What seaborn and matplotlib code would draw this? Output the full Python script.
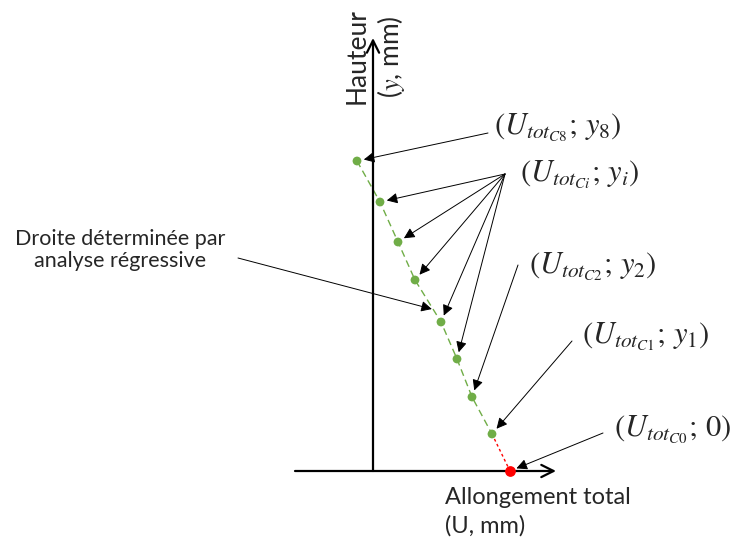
import numpy as np
import pandas as pd
import seaborn as sns
import matplotlib.pyplot as plt

# schematic data (drawing units, y grows downward)
u_pts = [357, 380, 398, 415, 441, 457, 472, 492]   # C8 ... C1
h_pts = [161, 202, 242, 280, 322, 359, 397, 434]
u0, h0 = 510, 471                                  # C0 on the U axis

lbl_c8 = r"$(U_{tot_{C8}};\,y_8)$"
lbl_ci = r"$(U_{tot_{Ci}};\,y_i)$"
lbl_c2 = r"$(U_{tot_{C2}};\,y_2)$"
lbl_c1 = r"$(U_{tot_{C1}};\,y_1)$"
lbl_c0 = r"$(U_{tot_{C0}};\,0)$"
lbl_line = "Droite déterminée par\nanalyse régressive"
lbl_x = "Allongement total\n(U, mm)"
lbl_y1 = "Hauteur"
lbl_y2 = "($y$, mm)"

sns.set_style("white")
plt.rcParams["font.family"] = ["Lato", "DejaVu Sans"]
plt.rcParams["mathtext.fontset"] = "stix"

fig = plt.figure(figsize=(7.47, 5.44), dpi=100)
ax = fig.add_axes([0, 0, 1, 1])

green = "#70ad47"

# axes of the diagram
ax.annotate("", xy=(373, 38), xytext=(373, h0),
            arrowprops=dict(arrowstyle="->", lw=1.6, color="black", mutation_scale=22, shrinkA=0, shrinkB=0))
ax.annotate("", xy=(556, h0), xytext=(295, h0),
            arrowprops=dict(arrowstyle="->", lw=1.6, color="black", mutation_scale=22, shrinkA=0, shrinkB=0))

# regression line + extrapolation to C0
df = pd.DataFrame({"U": u_pts, "H": h_pts})
sns.lineplot(data=df, x="U", y="H", sort=False, ax=ax, color=green, lw=1.0, linestyle=(0, (5, 3)))
ax.plot([u_pts[-1], u0], [h_pts[-1], h0], color="red", lw=1.0, linestyle=(0, (2, 2)))

sns.scatterplot(data=df, x="U", y="H", ax=ax, color=green, s=40, edgecolor="none", zorder=5)
ax.scatter([u0], [h0], color="red", s=45, zorder=6)
ax.set_xlim(0, 747)
ax.set_ylim(544, 0)
ax.axis("off")

arr = dict(arrowstyle="-|>", color="black", lw=0.7, mutation_scale=16, shrinkA=0, shrinkB=5)
msize = 22

# labels with arrows
ax.text(494, 127, lbl_c8, fontsize=msize, va="center", ha="left")
ax.annotate("", xy=(u_pts[0], h_pts[0]), xytext=(488, 133), arrowprops=arr)

ax.text(520, 174, lbl_ci, fontsize=msize, va="center", ha="left")
for i in range(1, 6):
    ax.annotate("", xy=(u_pts[i], h_pts[i]), xytext=(505, 174), arrowprops=arr)

ax.text(529, 266, lbl_c2, fontsize=msize, va="center", ha="left")
ax.annotate("", xy=(u_pts[6], h_pts[6]), xytext=(518, 265), arrowprops=arr)

ax.text(582, 336, lbl_c1, fontsize=msize, va="center", ha="left")
ax.annotate("", xy=(u_pts[7], h_pts[7]), xytext=(572, 341), arrowprops=arr)

ax.text(614, 429, lbl_c0, fontsize=msize, va="center", ha="left")
ax.annotate("", xy=(u0, h0), xytext=(603, 433), arrowprops=arr)

# regression line label
t = 0.7
mid = (u_pts[3] + t * (u_pts[4] - u_pts[3]), h_pts[3] + t * (h_pts[4] - h_pts[3]))
ax.text(120, 250, lbl_line, fontsize=15.5, ha="center", va="center", linespacing=1.15)
ax.annotate("", xy=mid, xytext=(238, 258), arrowprops=dict(arr, shrinkB=1))

# axis titles
ax.text(445, 512, lbl_x, fontsize=17, ha="left", va="center", linespacing=1.4)
ax.text(357, 56, lbl_y1, fontsize=19, rotation=90, ha="center", va="center")
ax.text(391, 57, lbl_y2, fontsize=19, rotation=90, ha="center", va="center")

fig.savefig("out.png", dpi=100)
